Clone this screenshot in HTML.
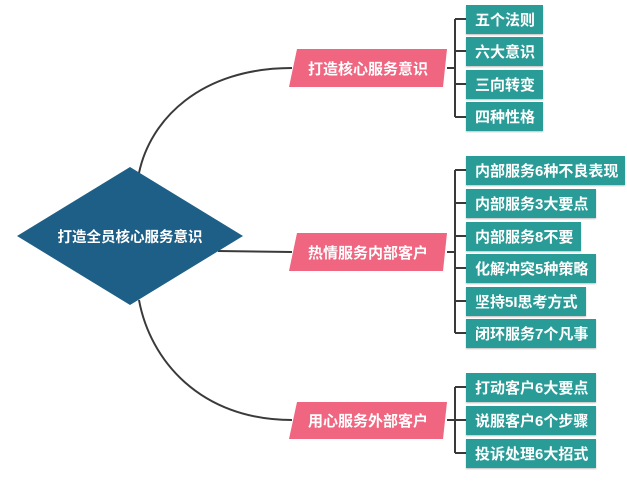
<!DOCTYPE html>
<html><head><meta charset="utf-8"><style>
html,body{margin:0;padding:0;background:#fff;}
svg{display:block}
text{font-family:"Liberation Sans","Noto Sans CJK SC",sans-serif;font-weight:bold;fill:#fff;}
</style></head><body>
<svg width="627" height="483" viewBox="0 0 627 483" xmlns="http://www.w3.org/2000/svg">
<defs><filter id="s" x="-10%" y="-10%" width="120%" height="130%"><feDropShadow dx="0" dy="1" stdDeviation="0.8" flood-color="#000" flood-opacity="0.25"/></filter></defs>
<g fill="none" stroke="#3a3a3a" stroke-width="2">
<path d="M139,173 C150,120 200,68 292,68"/>
<path d="M218,251 L292,252"/>
<path d="M139,300 C150,360 200,420 292,420"/>
<path d="M447,68 H455 M455,19 V117 M455,19 H466 M455,51 H466 M455,84 H466 M455,117 H466"/>
<path d="M447,252 H455 M455,170 V333 M455,170 H466 M455,203 H466 M455,236 H466 M455,268 H466 M455,301 H466 M455,333 H466"/>
<path d="M447,420 H455 M455,387 V453 M455,387 H466 M455,420 H466 M455,453 H466"/>
</g>
<polygon points="130,167 243,236 130,305 17,236" fill="#1d5f86"/>
<text x="130" y="242" font-size="14.5" text-anchor="middle">打造全员核心服务意识</text>
<g fill="#f0657f">
<polygon points="297,49 447,49 443,87 289,87"/>
<polygon points="297,233 447,233 443,271 289,271"/>
<polygon points="297,402 447,402 443,439 289,439"/>
</g>
<g font-size="15" text-anchor="middle">
<text x="368" y="74">打造核心服务意识</text>
<text x="368" y="258">热情服务内部客户</text>
<text x="368" y="426">用心服务外部客户</text>
</g>
<g fill="#2a9c97" filter="url(#s)">
<rect x="466" y="5" width="77" height="29"/>
<rect x="466" y="37" width="77" height="29"/>
<rect x="466" y="70" width="77" height="29"/>
<rect x="466" y="102" width="77" height="29"/>
<rect x="466" y="156" width="159" height="29"/>
<rect x="466" y="189" width="130" height="29"/>
<rect x="466" y="222" width="115" height="29"/>
<rect x="466" y="254" width="130" height="29"/>
<rect x="466" y="287" width="120" height="29"/>
<rect x="466" y="319" width="130" height="29"/>
<rect x="466" y="373" width="130" height="29"/>
<rect x="466" y="406" width="130" height="29"/>
<rect x="466" y="439" width="130" height="29"/>
</g>
<g font-size="15">
<text x="475" y="25">五个法则</text>
<text x="475" y="57">六大意识</text>
<text x="475" y="90">三向转变</text>
<text x="475" y="122">四种性格</text>
<text x="475" y="176">内部服务6种不良表现</text>
<text x="475" y="209">内部服务3大要点</text>
<text x="475" y="242">内部服务8不要</text>
<text x="475" y="274">化解冲突5种策略</text>
<text x="475" y="307">坚持5I思考方式</text>
<text x="475" y="339">闭环服务7个凡事</text>
<text x="475" y="393">打动客户6大要点</text>
<text x="475" y="426">说服客户6个步骤</text>
<text x="475" y="459">投诉处理6大招式</text>
</g>
</svg>
</body></html>
